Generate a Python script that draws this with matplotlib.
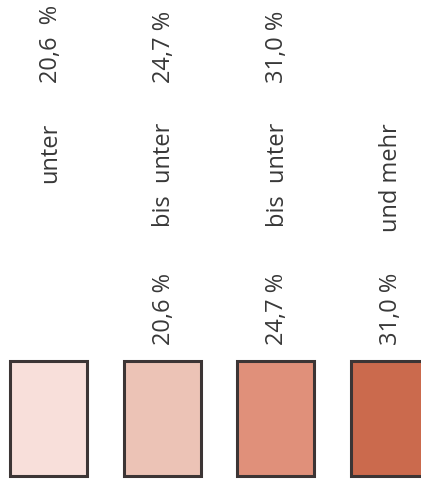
import matplotlib
matplotlib.use('Agg')
import matplotlib.pyplot as plt

# Legend data (rotated legend of a map)
classes    = [0, 1, 2, 3]
colors     = ['#f8dfda', '#ecc3b6', '#e0907a', '#cb6a4d']
lowLabels  = ['', '20,6 %', '24,7 %', '31,0 %']
midLabels  = ['unter', 'bis  unter', 'bis  unter', 'und mehr']
highLabels = ['20,6  %', '24,7 %', '31,0 %', '']

plt.rcParams['font.family'] = ['Open Sans', 'DejaVu Sans']
textColor = '#383838'

fig = plt.figure(figsize=(4.21, 4.91), dpi=100)
ax = fig.add_axes([0, 0, 1, 1])
ax.set_xlim(0, 421)
ax.set_ylim(491, 0)
ax.axis('off')

# Column layout in pixels
step = 113.5
x0 = 48.5
xs = [x0 + step*c for c in classes]

# Boxes
ax.bar(xs, 115, width=77, bottom=361, color=colors,
       edgecolor='#3c3535', linewidth=2.2)

fs = 17
for x, lo, mid, hi in zip(xs, lowLabels, midLabels, highLabels):
    tx = x + 2
    if hi:
        ax.text(tx, 83, hi, rotation=90, ha='center', va='bottom',
                fontsize=fs, color=textColor)
    ax.text(tx, 123, mid, rotation=90, ha='center', va='top',
            fontsize=fs, color=textColor)
    if lo:
        ax.text(tx, 345, lo, rotation=90, ha='center', va='bottom',
                fontsize=fs, color=textColor)

fig.savefig('out.png', dpi=100)
